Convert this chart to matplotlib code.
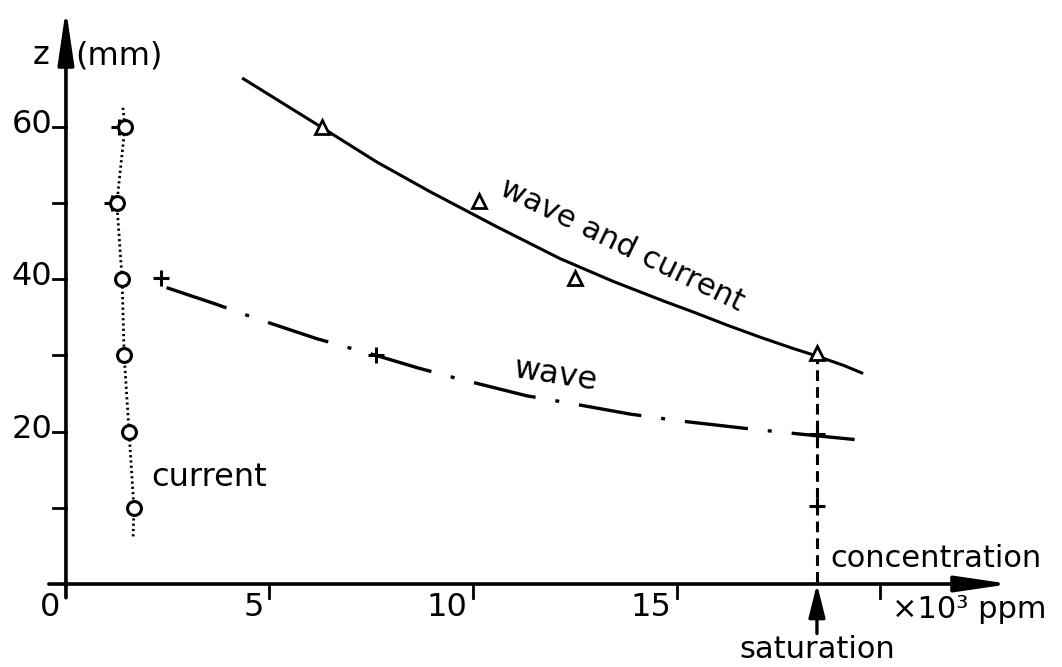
import matplotlib
matplotlib.use("Agg")
import matplotlib.pyplot as plt

# values
# concentration in 10^3 ppm, height z in mm
cur_x = [1.45, 1.25, 1.38, 1.43, 1.55, 1.67]
cur_z = [60, 50, 40, 30, 20, 10]
cur_line_x = [1.40, 1.45, 1.25, 1.38, 1.43, 1.55, 1.67, 1.65]
cur_line_z = [62.5, 60, 50, 40, 30, 20, 10, 6.0]

wc_x = [6.3, 10.15, 12.5, 18.45]
wc_z = [60, 50.2, 40.1, 30.3]
wc_curve_x = [4.36, 6.26, 7.63, 8.94, 10.58, 12.14, 13.45, 14.7, 15.41, 16.23,
              17.05, 17.87, 18.40, 19.10, 19.55]
wc_curve_z = [66.3, 60.0, 55.4, 51.5, 46.9, 42.7, 39.7, 37.1, 35.7, 34.0,
              32.4, 30.9, 30.0, 28.7, 27.7]

wave_x = [2.33, 7.62, 18.45, 18.45, 1.30, 1.12]
wave_z = [40.1, 30.0, 19.7, 10.2, 60, 50]
wave_curve_x = [2.47, 3.70, 4.64, 6.16, 7.62, 8.62, 9.52, 11.32, 12.30, 13.86,
                15.09, 16.73, 18.45, 19.68]
wave_curve_z = [38.9, 36.7, 34.9, 32.2, 30.0, 28.4, 27.1, 24.7, 23.8, 22.3,
                21.4, 20.4, 19.45, 18.8]

saturation = 18.45
sat_top = 30.3

xticks = [0, 5, 10, 15, 20]
xlabels = ['0', '5', '10', '15', '']
yticks = [10, 20, 30, 40, 50, 60]
ylabels = ['', '20', '', '40', '', '60']

plt.rcParams['font.family'] = ['DejaVu Sans']

fig = plt.figure(figsize=(10.62, 6.67), dpi=100)
ax = fig.add_axes([0, 0, 1, 1])
ax.set_xlim(-1.62, 24.47)
ax.set_ylim(-10.89, 76.64)
ax.axis('off')

k = 'black'
fs = 23

# axes with arrows
arr = dict(arrowstyle='-|>,head_length=1.5,head_width=0.22', lw=2.6, color=k,
           mutation_scale=22, shrinkA=0, shrinkB=0)
ax.annotate('', xy=(0, 75.5), xytext=(0, -1.8), arrowprops=arr)
ax.annotate('', xy=(23.2, 0), xytext=(-0.42, 0), arrowprops=arr)

for t, lab in zip(yticks, ylabels):
    ax.plot([-0.32, 0], [t, t], color=k, lw=2)
    if lab:
        ax.text(-0.34, t + 0.3, lab, ha='right', va='center', fontsize=fs)
for t in xticks[1:]:
    ax.plot([t, t], [0, -1.9], color=k, lw=2)
for t, lab in zip(xticks, xlabels):
    if lab:
        ax.text(t - 0.13, -3.1, lab, ha='right', va='center', fontsize=fs)

ax.text(-0.61, 69.3, 'z', ha='center', va='center', fontsize=fs)
ax.text(1.3, 69.3, '(mm)', ha='center', va='center', fontsize=fs)
ax.text(21.38, 3.3, 'concentration', ha='center', va='center', fontsize=fs - 1)
ax.text(22.2, -3.3, '×10³ ppm', ha='center', va='center', fontsize=fs - 1)

# curves
ax.plot(cur_line_x, cur_line_z, color=k, lw=2, linestyle=(0, (0.8, 1.1)), zorder=2)
ax.plot(wc_curve_x, wc_curve_z, color=k, lw=2.2, zorder=2)
ax.plot(wave_curve_x, wave_curve_z, color=k, lw=2.4,
        linestyle=(0, (19, 6, 1.2, 6)), zorder=2)

# saturation line and arrow
ax.plot([saturation, saturation], [sat_top, 0], color=k, lw=2.2,
        linestyle=(0, (3.5, 2)), zorder=2)
ax.annotate('', xy=(saturation, 0), xytext=(saturation, -6.5),
            arrowprops=dict(arrowstyle='-|>,head_length=1.0,head_width=0.25', lw=2.4,
                            color=k, mutation_scale=20, shrinkA=0, shrinkB=0))
ax.text(saturation, -8.6, 'saturation', ha='center', va='center', fontsize=fs - 1)

# markers
ax.plot(wave_x, wave_z, '+', color=k, ms=12, mew=2.2, zorder=3)
ax.plot(cur_x, cur_z, 'o', color=k, mfc='white', ms=10, mew=2.2, zorder=4)
ax.plot(wc_x, wc_z, '^', color=k, mfc='white', ms=10, mew=2, zorder=4)

# curve labels
ax.text(3.51, 14.0, 'current', ha='center', va='center', fontsize=fs)
ax.text(12.04, 27.4, 'wave', ha='center', va='center', fontsize=fs, rotation=-9)
ax.text(13.65, 44.5, 'wave and current', ha='center', va='center', fontsize=fs - 1,
        rotation=-26, rotation_mode='anchor')

fig.savefig('out.png', dpi=100)
